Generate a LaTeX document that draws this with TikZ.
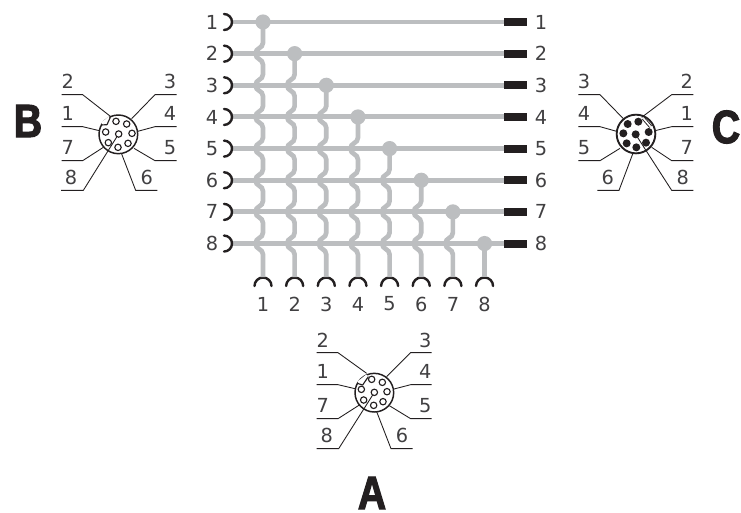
\documentclass[tikz,border=0pt]{standalone}
\usepackage{fontspec}
\setmainfont{DejaVu Sans}
\newfontfamily\heavyfont[FakeStretch=0.84,BoldFeatures={FakeBold=2.4}]{Liberation Sans}
\begin{document}
\begin{tikzpicture}[x=.75pt,y=-.75pt,
  wire/.style={draw=wiregray,line width=3.7pt},
  hop/.style={draw=wiregray,line width=3.5pt},
  junction/.style={circle,fill=wiregray,inner sep=0pt,minimum size=11.4pt},
  plug/.style={fill=ink,draw=none,minimum width=17.3pt,minimum height=6pt,inner sep=0pt},
  socket/.style={draw=ink,line width=1.8pt,line cap=round},
  num/.style={font=\fontsize{14.5pt}{15pt}\selectfont,text=numgray,inner sep=0pt},
  big/.style={font=\heavyfont\fontsize{35pt}{35pt}\selectfont\bfseries,text=ink,inner sep=0pt},
  lead/.style={draw=ink,line width=.65pt},
  rim/.style={draw=ink,line width=1.1pt},
  openpin/.style={circle,draw=ink,line width=.85pt,fill=white,minimum size=4.8pt,inner sep=0pt},
  fullpin/.style={circle,fill=ink,minimum size=6pt,inner sep=0pt}]
\definecolor{wiregray}{RGB}{188,190,192}
\definecolor{ink}{RGB}{35,31,32}
\definecolor{numgray}{RGB}{65,64,66}
\useasboundingbox (0,0) rectangle (741,512);
\fill[white] (0,0) rectangle (741,512);
% matrix
\foreach \i in {1,...,8}{
  \pgfmathsetmacro{\ry}{22+31.65*(\i-1)}
  \pgfmathsetmacro{\cx}{263+31.65*(\i-1)}
  \coordinate (L\i) at (232,\ry);
  \node[plug,anchor=west] (R\i) at (504,\ry) {};
  \node[num] (LT\i) at (212,\ry) {\i};
  \node[num] (RT\i) at (541,\ry) {\i};
  \draw[wire] (L\i) -- (R\i.west);
  \draw[socket] (224,\ry-8) arc[start angle=-90,end angle=90,radius=8];
  \coordinate (B\i) at (\cx,277);
  \node[num] (BT\i) at (\cx,304) {\i};
  \draw[socket] (\cx-8.5,286) arc[start angle=180,end angle=360,radius=8.5];
}
\foreach \j in {1,...,8}{
  \pgfmathsetmacro{\cx}{263+31.65*(\j-1)}
  \pgfmathsetmacro{\sy}{22+31.65*(\j-1)}
  \node[junction] (J\j) at (\cx,\sy) {};
  \ifnum\j<8
    \pgfmathtruncatemacro{\nx}{\j+1}
    \draw[hop] (J\j.center) -- (\cx,\sy+31.65-11)
    \foreach \r in {\nx,...,8}{
      \pgfextra{\pgfmathsetmacro{\hy}{22+31.65*(\r-1)}}
      -- (\cx,\hy-11) .. controls (\cx,\hy-5) and (\cx-7.5,\hy-6) .. (\cx-7.5,\hy)
      .. controls (\cx-7.5,\hy+6) and (\cx,\hy+5) .. (\cx,\hy+11)
    } -- (B\j);
  \else
    \draw[hop] (J\j.center) -- (B\j);
  \fi
}
% connector B
\begin{scope}[shift={(0,60)},x=.25pt,y=-.25pt]
  \coordinate (BC) at (355,223);
  \draw[lead] (185,104)--(248,104)--(330,168);
  \draw[lead] (530,104)--(465,104)--(395,176);
  \draw[lead] (185,200)--(248,200)--(298,212);
  \draw[lead] (530,200)--(465,200)--(413,214);
  \draw[lead] (185,302)--(248,302)--(310,262);
  \draw[lead] (530,302)--(465,302)--(402,265);
  \draw[lead] (183,391)--(250,391)--(352,228);
  \draw[lead] (472,391)--(407,391)--(365,282);
  \draw[rim] (BC) circle[radius=58];
  \draw[white,line width=1.6pt] (306,191)--(327,172);
  \draw[lead,line width=.85pt] (303,195)--(321,194)--(331,172);
  \foreach \p/\q in {348/184,380/192,396/220,384/250,354/262,325/248,317/216,356/222}
    \node[openpin] at (\p,\q) {};
  \foreach \t/\p/\q in {2/203/65,3/510/65,1/203/160,4/510/160,7/203/262,5/510/262,8/213/352,6/440/352}
    \node[num] at (\p,\q) {\t};
\end{scope}
\node[big] (LB) at (28,121) {B};
% connector C
\begin{scope}[shift={(560,60)},x=.25pt,y=-.25pt]
  \coordinate (CC) at (228,222);
  \draw[lead] (55,104)--(120,104)--(190,176);
  \draw[lead] (400,104)--(335,104)--(245,172);
  \draw[lead] (55,200)--(120,200)--(170,214);
  \draw[lead] (400,200)--(335,200)--(285,212);
  \draw[lead] (55,302)--(120,302)--(180,265);
  \draw[lead] (400,302)--(335,302)--(275,262);
  \draw[lead] (112,391)--(177,391)--(218,282);
  \draw[lead] (400,391)--(335,391)--(230,228);
  \draw[rim,line width=1.4pt] (CC) circle[radius=58];
  \draw[ink,line width=2.6pt] (250,175)--(272,200);
  \draw[white,line width=1.2pt] (250,175)--(272,200);
  \foreach \p/\q in {235/185,203/192,190/220,200/250,229/262,258/248,266/216,227/223}
    \node[fullpin] at (\p,\q) {};
  \foreach \t/\p/\q in {3/72/65,2/380/65,4/72/160,1/380/160,5/72/262,7/380/262,6/143/352,8/368/352}
    \node[num] at (\p,\q) {\t};
\end{scope}
\node[big] (LC) at (726,127) {C};
% connector A
\begin{scope}[shift={(300,320)},x=.25pt,y=-.25pt]
  \coordinate (AC) at (223,218);
  \draw[lead] (50,98)--(114,98)--(200,160);
  \draw[lead] (395,98)--(332,98)--(260,170);
  \draw[lead] (50,194)--(114,194)--(165,206);
  \draw[lead] (395,194)--(332,194)--(282,207);
  \draw[lead] (50,296)--(114,296)--(178,255);
  \draw[lead] (395,296)--(332,296)--(268,257);
  \draw[lead] (50,386)--(116,386)--(218,225);
  \draw[lead] (338,386)--(273,386)--(230,275);
  \draw[rim] (AC) circle[radius=58];
  \draw[white,line width=1.6pt] (174,187)--(201,166);
  \draw[lead,line width=.85pt] (172,190)--(188,195)--(205,170);
  \foreach \p/\q in {215/178,247/187,261/215,249/245,221/256,191/240,184/208,223/217}
    \node[openpin] at (\p,\q) {};
  \foreach \t/\p/\q in {2/68/60,3/376/60,1/68/155,4/376/155,7/68/257,5/376/257,8/80/346,6/306/346}
    \node[num] at (\p,\q) {\t};
\end{scope}
\node[big] (LA) at (372,493) {A};
\end{tikzpicture}
\end{document}
